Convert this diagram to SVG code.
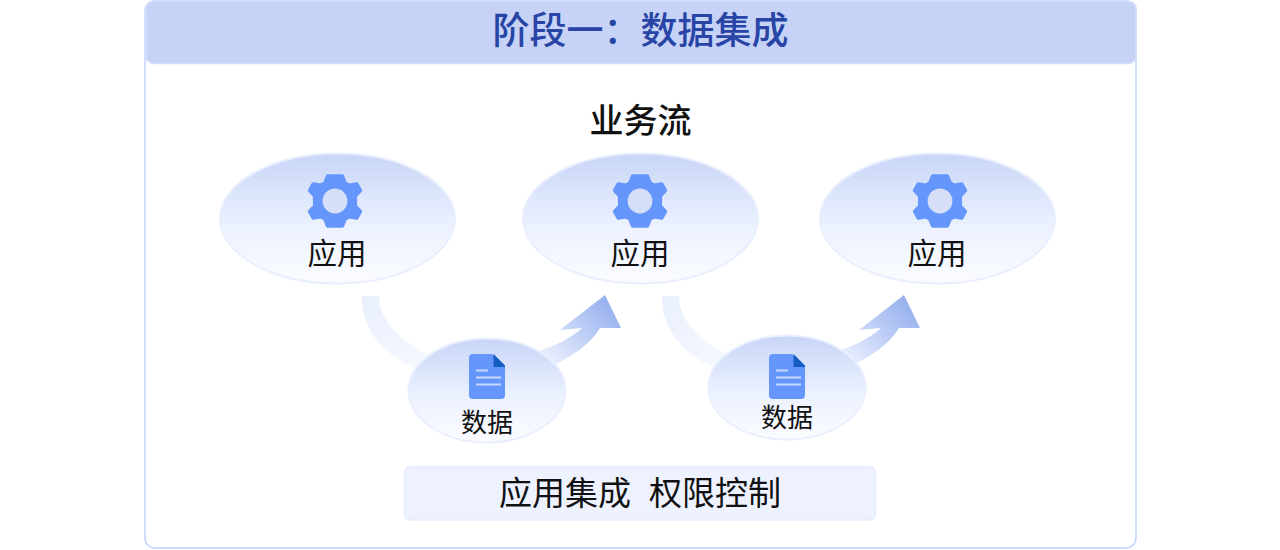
<svg xmlns="http://www.w3.org/2000/svg" width="1280" height="550" viewBox="0 0 1280 550">
<style>
text{font-family:"Noto Sans CJK SC","Noto Sans",sans-serif;text-anchor:middle;fill:#111}
.app{font-size:29.500px}.data{font-size:26px}
.oval{stroke:#e9effe;stroke-width:2}
</style>
<defs>
<linearGradient id="ov" x1="0" y1="0" x2="0" y2="1"><stop offset="0" stop-color="#c8d5f7"/><stop offset="0.55" stop-color="#ebf1fe"/><stop offset="1" stop-color="#fbfcff"/></linearGradient>
<linearGradient id="down" gradientUnits="userSpaceOnUse" x1="362" y1="296" x2="430" y2="365"><stop offset="0" stop-color="#e9effd"/><stop offset="1" stop-color="#f6f9ff"/></linearGradient>
<linearGradient id="up" gradientUnits="userSpaceOnUse" x1="540" y1="365" x2="612" y2="300"><stop offset="0" stop-color="#f3f6ff"/><stop offset="1" stop-color="#94aeee"/></linearGradient>
<g id="gear"><g transform="scale(0.92)"><path d="M-8-27H8L11-19.500 15.500-17 23.500-18.500 27.500-11.500 22-5.500V5.500L27.500 11.500 23.500 18.500 15.500 17 11 19.500 8 27H-8L-11 19.500-15.500 17-23.500 18.500-27.500 11.500-22 5.500V-5.500L-27.500-11.500-23.500-18.500-15.500-17-11-19.500Z" fill="#6596fb" stroke="#6596fb" stroke-width="4" stroke-linejoin="round"/><circle r="13.500" fill="#d6dff7"/></g></g>
<g id="doc"><path d="M4 0H23L36 13V41Q36 45 32 45H4Q0 45 0 41V4Q0 0 4 0Z" fill="#6596fb"/><path d="M24.500 0L36 11.500V13H24.500Z" fill="#155cc4"/><path d="M7 16.500H19M7 23.500H32M7 30.500H32" stroke="#c9d9fd" stroke-width="1.800" fill="none"/></g>
<path id="down-arrow" d="M362 296H379C380 325 405 345 440 360L425 372C385 358 361 330 362 296Z" fill="url(#down)"/>
<path id="up-arrow" d="M535 352C555 346 570 339 582 328L560 330 605 295 621 328 600 328C590 345 572 356 552 366Z" fill="url(#up)"/>
</defs>

<g id="frame">
<rect x="145" y="1" width="991" height="547" rx="10" fill="#fff" stroke="#c0d2fd" stroke-width="1.500"/>
</g>
<g id="header">
<rect x="146" y="1" width="990" height="62.500" rx="8" fill="#c6d3f6" stroke="#d3defb" stroke-width="1.500"/>
<text x="640.500" y="44" font-size="37" font-weight="500" style="fill:#2845a6">阶段一：数据集成</text>
</g>
<text id="flow-title" x="640.500" y="133" font-size="34" font-weight="500">业务流</text>

<g id="connectors">
<use href="#down-arrow"/>
<use href="#up-arrow"/>
<use href="#down-arrow" x="300"/>
<use href="#up-arrow" x="299"/>
</g>

<g id="app-1"><ellipse class="oval" cx="337.500" cy="218.500" rx="117.500" ry="65" fill="url(#ov)"/><use href="#gear" x="335" y="201"/><text class="app" x="337" y="264">应用</text></g>
<g id="app-2"><ellipse class="oval" cx="640.500" cy="218.500" rx="117.500" ry="65" fill="url(#ov)"/><use href="#gear" x="640" y="201"/><text class="app" x="640" y="264">应用</text></g>
<g id="app-3"><ellipse class="oval" cx="937.500" cy="218.500" rx="117.500" ry="65" fill="url(#ov)"/><use href="#gear" x="940" y="201"/><text class="app" x="937" y="264">应用</text></g>
<g id="data-1"><ellipse class="oval" cx="487" cy="390.500" rx="78.500" ry="52" fill="url(#ov)"/><use href="#doc" x="469" y="354"/><text class="data" x="487" y="432">数据</text></g>
<g id="data-2"><ellipse class="oval" cx="787" cy="387.500" rx="78.500" ry="52" fill="url(#ov)"/><use href="#doc" x="769" y="354"/><text class="data" x="787" y="427">数据</text></g>

<g id="bar">
<rect x="404.500" y="466.500" width="471" height="53.500" rx="6" fill="#eef2fe" stroke="#e6ecfe" stroke-width="1.500"/>
<text x="640" y="505" font-size="33" xml:space="preserve" word-spacing="1.500">应用集成  权限控制</text>
</g>
</svg>
